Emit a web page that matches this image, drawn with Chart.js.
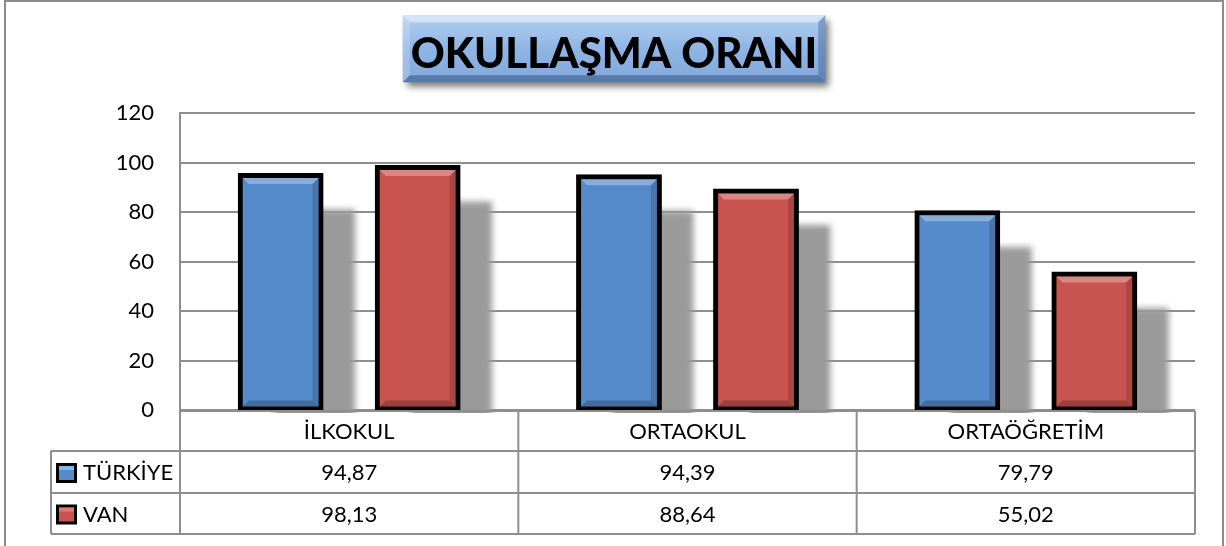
<!DOCTYPE html>
<html lang="tr">
<head>
    <meta charset="UTF-8">
    <title>Okullaşma Oranı</title>
    <style>
        body { margin: 0; background: #fff; }
        canvas { display: block; }
    </style>
</head>
<body>
    <canvas id="myChart" width="1226" height="546"></canvas>
    <script src="https://cdn.jsdelivr.net/npm/chart.js"></script>
    <script>
        const categories = ['İLKOKUL', 'ORTAOKUL', 'ORTAÖĞRETİM'];
        const seriesNames = ['TÜRKİYE', 'VAN'];
        const turkiye = [94.87, 94.39, 79.79];
        const van = [98.13, 88.64, 55.02];
        const yTicks = [0, 20, 40, 60, 80, 100, 120];

        const gridColor = '#8e8e8e';
        const barColors = ['#558acb', '#c9534f'];
        const lightColors = ['#86b6ee', '#e07a76'];

        // frame, title box and bar shadows
        const decoPlugin = {
            id: 'deco',
            beforeDraw(chart) {
                const ctx = chart.ctx;
                ctx.save();
                ctx.strokeStyle = '#8c8c8c';
                ctx.lineWidth = 2;
                ctx.strokeRect(5, 1, 1218, 560);

                const tb = chart.titleBlock;
                const opts = chart.options.plugins.title;
                ctx.font = opts.font.weight + ' ' + opts.font.size + 'px Lato';
                const tw = ctx.measureText(opts.text).width;
                const cx = (tb.left + tb.right) / 2;
                const cy = tb.top + opts.padding.top + opts.font.size * 1.2 / 2;
                const bx = cx - tw / 2 - 8, by = cy - 39, bw = tw + 16, bh = 67;

                ctx.save();
                ctx.shadowColor = 'rgba(0,0,0,0.55)';
                ctx.shadowBlur = 7;
                ctx.shadowOffsetX = 4;
                ctx.shadowOffsetY = 5;
                const g = ctx.createLinearGradient(0, by, 0, by + bh);
                g.addColorStop(0, '#b4cff2');
                g.addColorStop(0.5, '#8fb5e4');
                g.addColorStop(1, '#82a9da');
                ctx.fillStyle = g;
                ctx.fillRect(bx, by, bw, bh);
                ctx.restore();

                const b = 7;
                ctx.fillStyle = 'rgba(255,255,255,0.45)';
                ctx.beginPath();
                ctx.moveTo(bx, by); ctx.lineTo(bx + bw, by);
                ctx.lineTo(bx + bw - b, by + b); ctx.lineTo(bx + b, by + b);
                ctx.fill();
                ctx.fillStyle = 'rgba(255,255,255,0.2)';
                ctx.beginPath();
                ctx.moveTo(bx, by); ctx.lineTo(bx + b, by + b);
                ctx.lineTo(bx + b, by + bh - b); ctx.lineTo(bx, by + bh);
                ctx.fill();
                ctx.fillStyle = 'rgba(20,50,100,0.3)';
                ctx.beginPath();
                ctx.moveTo(bx + bw, by); ctx.lineTo(bx + bw, by + bh);
                ctx.lineTo(bx + bw - b, by + bh - b); ctx.lineTo(bx + bw - b, by + b);
                ctx.fill();
                ctx.fillStyle = 'rgba(20,50,100,0.4)';
                ctx.beginPath();
                ctx.moveTo(bx, by + bh); ctx.lineTo(bx + bw, by + bh);
                ctx.lineTo(bx + bw - b, by + bh - b); ctx.lineTo(bx + b, by + bh - b);
                ctx.fill();
                ctx.restore();
            },
            beforeDatasetsDraw(chart) {
                const ctx = chart.ctx;
                const ca = chart.chartArea;
                ctx.save();
                ctx.beginPath();
                ctx.rect(ca.left, ca.top - 10, ca.right - ca.left + 40, ca.bottom - ca.top + 13);
                ctx.clip();
                ctx.filter = 'blur(3px)';
                ctx.fillStyle = '#9a9a9a';
                chart.data.datasets.forEach((ds, i) => {
                    chart.getDatasetMeta(i).data.forEach(bar => {
                        const p = bar.getProps(['x', 'y', 'base', 'width'], true);
                        ctx.fillRect(p.x - p.width / 2 + 34, p.y + 34, p.width, p.base - p.y);
                    });
                });
                ctx.restore();
            },
            afterDatasetsDraw(chart) {
                const ctx = chart.ctx;
                ctx.save();
                chart.data.datasets.forEach((ds, i) => {
                    chart.getDatasetMeta(i).data.forEach(bar => {
                        const p = bar.getProps(['x', 'y', 'base', 'width'], true);
                        const bw = ds.borderWidth;
                        const inf = ds.inflateAmount;
                        const l = p.x - p.width / 2 + bw - inf, r = p.x + p.width / 2 - bw + inf;
                        const t = p.y + bw - inf, btm = p.base - bw + inf;
                        const b = 6;
                        ctx.fillStyle = 'rgba(255,255,255,0.3)';
                        ctx.beginPath();
                        ctx.moveTo(l, t); ctx.lineTo(r, t); ctx.lineTo(r - b, t + b); ctx.lineTo(l + b, t + b);
                        ctx.fill();
                        ctx.fillStyle = 'rgba(0,0,0,0.15)';
                        ctx.beginPath();
                        ctx.moveTo(r, t); ctx.lineTo(r, btm); ctx.lineTo(r - b, btm - b); ctx.lineTo(r - b, t + b);
                        ctx.fill();
                        ctx.fillStyle = 'rgba(0,0,0,0.22)';
                        ctx.beginPath();
                        ctx.moveTo(l, btm); ctx.lineTo(r, btm); ctx.lineTo(r - b, btm - b); ctx.lineTo(l + b, btm - b);
                        ctx.fill();
                    });
                });
                ctx.restore();
            }
        };

        // data table under the plot
        const tablePlugin = {
            id: 'dataTable',
            afterDraw(chart) {
                const ctx = chart.ctx;
                const ca = chart.chartArea;
                const xs = chart.scales.x;
                const step = (ca.right - ca.left) / categories.length;
                const rows = [ca.bottom + 1, ca.bottom + 41, ca.bottom + 83, ca.bottom + 124];
                const keyLeft = 51;
                ctx.save();
                ctx.strokeStyle = gridColor;
                ctx.lineWidth = 2;
                ctx.beginPath();
                ctx.moveTo(ca.left, rows[0]); ctx.lineTo(ca.right, rows[0]);
                for (let k = 1; k < rows.length; k++) {
                    ctx.moveTo(keyLeft, rows[k]); ctx.lineTo(ca.right, rows[k]);
                }
                for (let i = 0; i <= categories.length; i++) {
                    ctx.moveTo(ca.left + i * step, rows[0]); ctx.lineTo(ca.left + i * step, rows[3]);
                }
                ctx.moveTo(keyLeft, rows[1]); ctx.lineTo(keyLeft, rows[3]);
                ctx.stroke();

                ctx.fillStyle = '#000';
                ctx.font = '22px Lato';
                ctx.textAlign = 'center';
                ctx.textBaseline = 'middle';
                categories.forEach((c, i) => {
                    ctx.fillText(c, xs.getPixelForValue(i), (rows[0] + rows[1]) / 2 + 1);
                });
                chart.data.datasets.forEach((ds, s) => {
                    const yc = (rows[s + 1] + rows[s + 2]) / 2 + 1;
                    ds.data.forEach((v, i) => {
                        ctx.fillText(v.toFixed(2).replace('.', ','), xs.getPixelForValue(i), yc);
                    });
                    // legend key
                    const kx = 56, ky = yc - 10;
                    ctx.fillStyle = '#000';
                    ctx.fillRect(kx, ky, 21, 20);
                    ctx.fillStyle = barColors[s];
                    ctx.fillRect(kx + 3, ky + 3, 15, 14);
                    ctx.fillStyle = lightColors[s];
                    ctx.fillRect(kx + 3, ky + 3, 15, 4);
                    ctx.fillStyle = '#000';
                    ctx.textAlign = 'left';
                    ctx.fillText(seriesNames[s], 83, yc);
                    ctx.textAlign = 'center';
                });
                ctx.restore();
            }
        };

        const barStyle = {
            borderColor: '#000',
            borderWidth: 5,
            borderSkipped: false,
            inflateAmount: 2.5,
            categoryPercentage: 0.81,
            barPercentage: 0.59
        };

        const config = {
            type: 'bar',
            data: {
                labels: categories,
                datasets: [
                    Object.assign({ label: seriesNames[0], data: turkiye, backgroundColor: barColors[0] }, barStyle),
                    Object.assign({ label: seriesNames[1], data: van, backgroundColor: barColors[1] }, barStyle)
                ]
            },
            options: {
                responsive: false,
                animation: false,
                layout: {
                    padding: { left: 33, right: 31, top: 6, bottom: 136 }
                },
                plugins: {
                    legend: { display: false },
                    tooltip: { enabled: false },
                    title: {
                        display: true,
                        text: 'OKULLAŞMA ORANI',
                        color: '#000',
                        font: { family: 'Lato', size: 42, weight: '900' },
                        padding: { top: 23, bottom: 34 }
                    }
                },
                scales: {
                    x: {
                        display: false
                    },
                    y: {
                        min: 0,
                        max: 120,
                        afterBuildTicks: (scale) => {
                            scale.ticks = yTicks.map(v => ({ value: v }));
                        },
                        afterFit: (scale) => { scale.width = 147; },
                        ticks: {
                            color: '#000',
                            font: { family: 'Lato', size: 22 },
                            padding: 26
                        },
                        grid: {
                            color: gridColor,
                            lineWidth: 2,
                            drawTicks: false
                        },
                        border: { color: gridColor, width: 2 }
                    }
                }
            },
            plugins: [decoPlugin, tablePlugin]
        };

        const myChart = new Chart(document.getElementById('myChart'), config);
    </script>
</body>
</html>
